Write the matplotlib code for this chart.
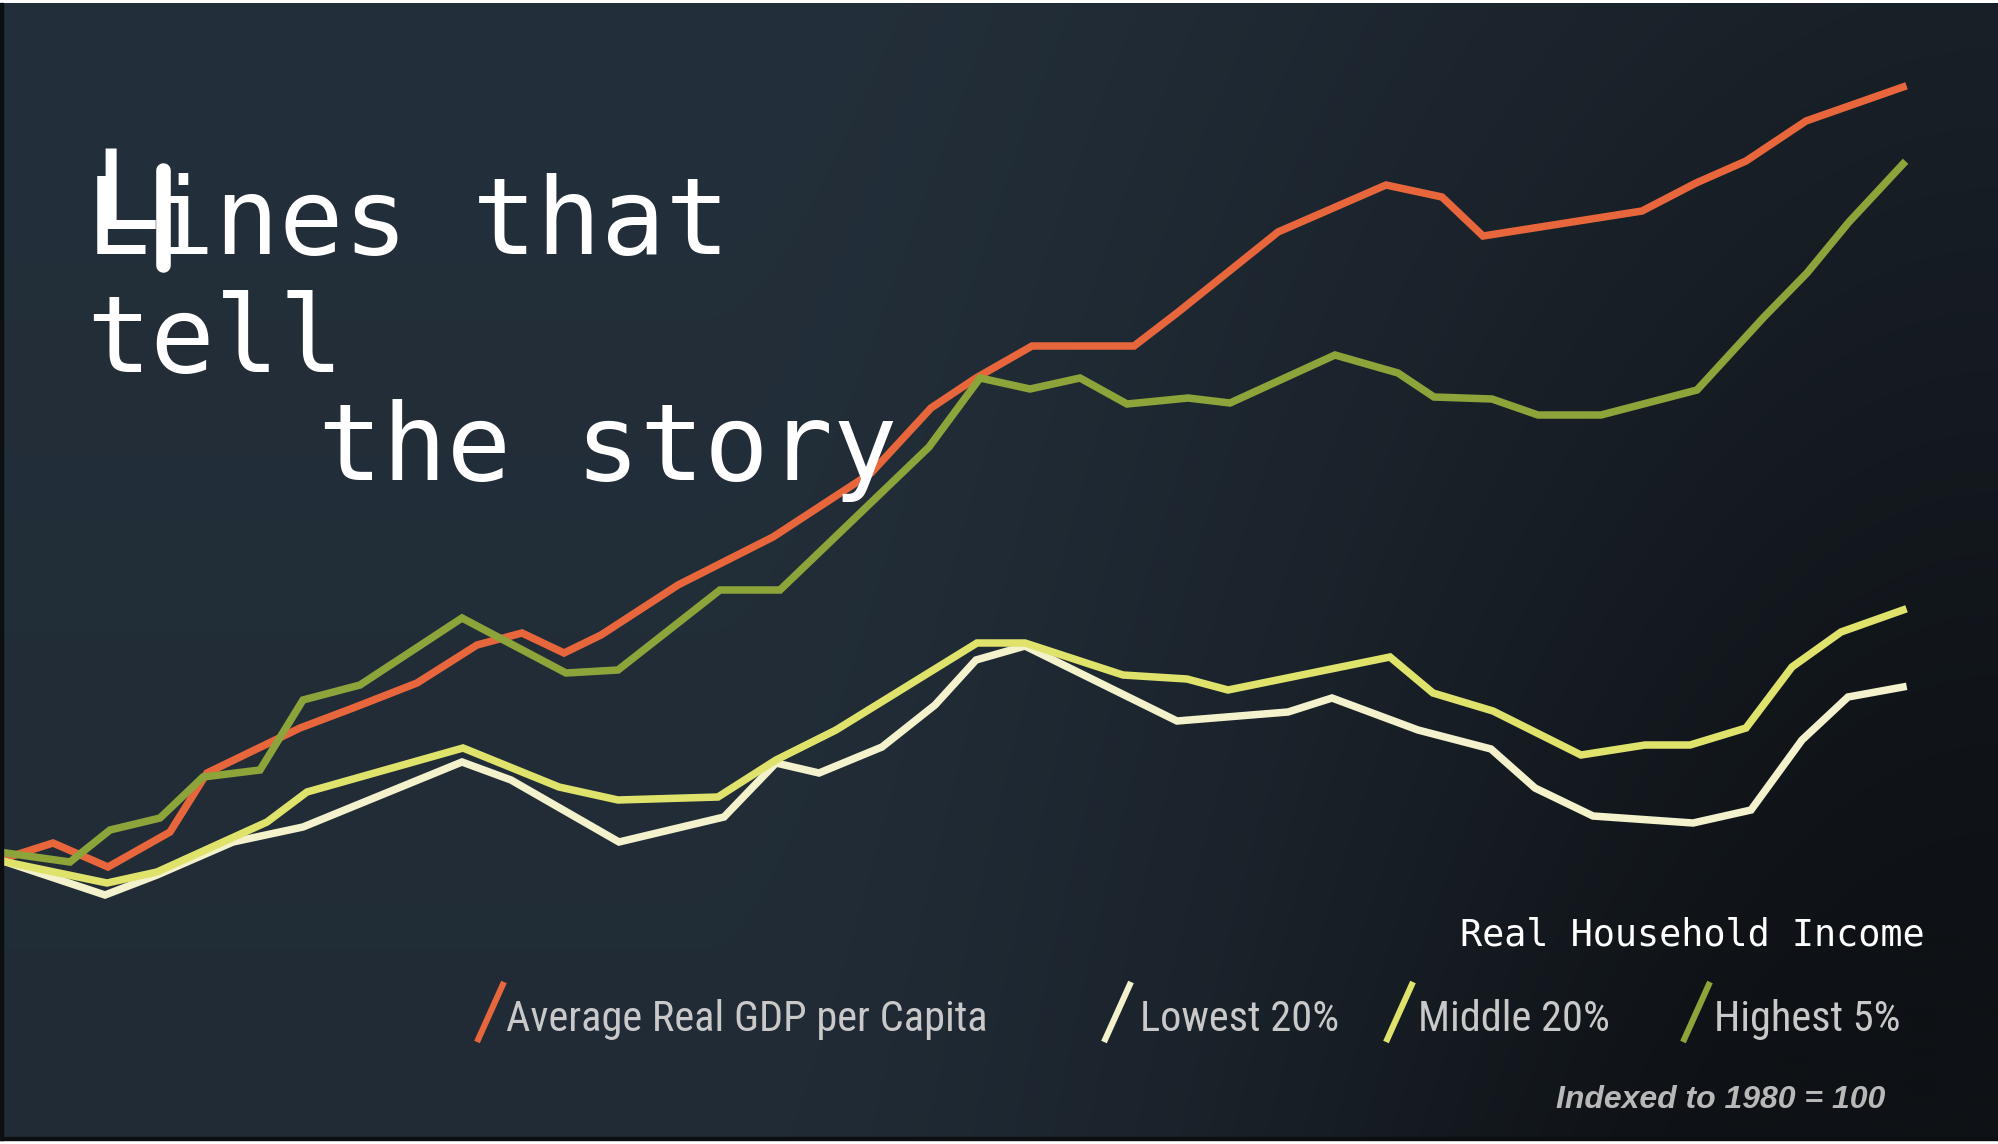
import numpy as np
import matplotlib
matplotlib.use("Agg")
import matplotlib.pyplot as plt
from matplotlib.lines import Line2D
from matplotlib import font_manager

# index values, 1980 = 100
gdp_years = [1980.00, 1980.94, 1982.04, 1983.28, 1984.02, 1985.88, 1986.94, 1988.22, 1989.42,
             1990.32, 1991.16, 1991.90, 1993.44, 1995.34, 1997.30, 1998.50, 1999.40, 2000.52,
             2002.56, 2003.42, 2005.44, 2007.60, 2008.72, 2009.54, 2012.72, 2013.80, 2014.80,
             2016.00, 2017.94]
gdp_index = [100.0, 103.0, 98.2, 105.2, 117.0, 126.0, 130.0, 135.0, 142.6,
             145.0, 141.0, 144.6, 154.6, 164.2, 177.0, 190.0, 196.0, 202.4,
             202.4, 209.0, 225.2, 234.6, 232.2, 224.4, 229.4, 235.0, 239.4,
             247.4, 254.2]

low_years = [1980.00, 1981.98, 1983.02, 1984.54, 1985.94, 1989.12, 1990.10, 1992.26, 1994.36,
             1995.40, 1996.26, 1997.52, 1998.58, 1999.40, 2000.38, 2003.42, 2005.64, 2006.52,
             2008.24, 2009.70, 2010.58, 2011.74, 2013.74, 2014.90, 2015.92, 2016.84, 2017.94]
low_index = [99.2, 92.6, 96.6, 103.2, 106.2, 119.2, 115.6, 103.2, 108.2,
             119.0, 117.0, 122.2, 130.6, 139.6, 142.4, 127.4, 129.2, 132.0,
             125.6, 121.8, 114.0, 108.4, 107.0, 109.6, 123.6, 132.2, 134.2]

mid_years = [1980.00, 1982.02, 1983.02, 1985.22, 1986.02, 1989.14, 1991.06, 1992.24, 1994.24,
             1995.40, 1996.60, 1999.42, 2000.38, 2002.34, 2003.62, 2004.44, 2007.68, 2008.54,
             2009.74, 2011.50, 2012.78, 2013.68, 2014.80, 2015.72, 2016.70, 2017.94]
mid_index = [99.2, 95.0, 97.2, 107.2, 113.2, 122.0, 114.2, 111.6, 112.2,
             119.6, 125.6, 143.0, 143.0, 136.6, 135.8, 133.6, 140.2, 133.0,
             129.4, 120.6, 122.6, 122.6, 126.0, 138.2, 145.2, 149.6]

top_years = [1980.00, 1981.28, 1982.08, 1983.08, 1983.94, 1985.08, 1985.94, 1987.08, 1989.12,
             1991.20, 1992.24, 1994.28, 1995.48, 1998.46, 1999.48, 2000.48, 2001.48, 2002.42,
             2003.64, 2004.48, 2006.58, 2007.84, 2008.56, 2009.72, 2010.64, 2011.90, 2013.82,
             2015.16, 2016.02, 2016.86, 2017.94]
top_index = [101.0, 99.2, 105.6, 108.0, 116.2, 117.6, 131.6, 134.6, 148.0,
             137.0, 137.6, 153.6, 153.6, 182.2, 196.0, 193.8, 196.0, 190.8,
             192.0, 191.0, 200.6, 197.0, 192.2, 191.8, 188.6, 188.6, 193.6,
             208.2, 217.0, 227.2, 238.8]

labels = ['Average Real GDP per Capita', 'Lowest 20%', 'Middle 20%', 'Highest 5%']
colors = ['#e8663b', '#f3f2cc', '#dfe36c', '#8ca43a']

W, H = 1999, 1144
def fx(px):
    return px / W
def fy(py):
    return 1 - py / H

# a narrow sans for the legend if one is around, otherwise plain Liberation Sans a bit smaller
narrow = [f for f in font_manager.fontManager.ttflist
          if ('Narrow' in f.name or 'Condensed' in f.name
              or f.stretch in ('condensed', 'semi-condensed', 'extra-condensed'))
          and f.style == 'normal' and f.weight in (400, 'normal', 'regular')]
prefer = ['Roboto Condensed', 'Liberation Sans Narrow', 'Open Sans Condensed']
narrow.sort(key=lambda f: prefer.index(f.name) if f.name in prefer else 99)
if narrow:
    leg_font = dict(family=narrow[0].name, stretch=narrow[0].stretch)
    leg_size = 30.5
else:
    leg_font = dict(family='Liberation Sans')
    leg_size = 27

fig = plt.figure(figsize=(W / 100, H / 100), dpi=100)
fig.patch.set_facecolor('white')
ax = fig.add_axes([0, 0, 1, 1])

# dark slate background, darker towards the right / bottom right
u = np.linspace(0, 1, 500)[None, :]
v = np.linspace(0, 1, 300)[:, None]
s = np.clip((u - 0.35) / 0.65, 0, 1)
s = s * s * (3 - 2 * s)
t = np.clip(0.5 * s + 0.5 * s * v + 0.12 * v, 0, 1)
c1 = np.array([0x23, 0x2f, 0x3a]) / 255
c2 = np.array([0x0e, 0x11, 0x15]) / 255
img = c1[None, None, :] * (1 - t[..., None]) + c2[None, None, :] * t[..., None]
ax.imshow(img, extent=(1979.88, 2019.86, 43.6, 271.0), aspect='auto',
          interpolation='bilinear', zorder=0)
ax.set_xlim(1979.88, 2019.86)
ax.set_ylim(42.8, 271.6)
ax.axis('off')

lw = 5.4
ax.plot(gdp_years, gdp_index, color=colors[0], lw=lw, solid_joinstyle='miter', zorder=3)
ax.plot(low_years, low_index, color=colors[1], lw=lw, solid_joinstyle='miter', zorder=3)
ax.plot(mid_years, mid_index, color=colors[2], lw=lw, solid_joinstyle='miter', zorder=4)
ax.plot(top_years, top_index, color=colors[3], lw=lw, solid_joinstyle='miter', zorder=4)

# frame edges
fig.add_artist(plt.Rectangle((0, fy(1140)), fx(3), fy(3) - fy(1140),
                             transform=fig.transFigure, color='#0b0f12', zorder=5))
fig.add_artist(plt.Rectangle((0, fy(1140)), 1, fy(1137) - fy(1140),
                             transform=fig.transFigure, color='#0b0f12', zorder=5))

# title
mono = 'DejaVu Sans Mono'
fig.text(fx(86), fy(254), 'Lines that', fontsize=77, family=mono, color='white', va='baseline', zorder=6)
fig.text(fx(86), fy(372), 'tell', fontsize=77, family=mono, color='white', va='baseline', zorder=6)
fig.text(fx(318), fy(480), 'the story', fontsize=77, family=mono, color='white', va='baseline', zorder=6)
# glitched drop cap
fig.text(fx(93), fy(229), 'L', fontsize=80, family=mono, color='white', va='baseline', zorder=6)
fig.add_artist(Line2D([fx(163), fx(163)], [fy(170), fy(265)], transform=fig.transFigure,
                      color='white', lw=10.5, solid_capstyle='round', zorder=6))

fig.text(fx(1925), fy(945), 'Real Household Income', fontsize=26.5, family=mono,
         color='white', ha='right', va='baseline', zorder=6)

# legend
stroke_x = [477, 1104, 1386, 1683]
text_x = [506, 1140, 1418, 1714]
for lab, col, sx, tx in zip(labels, colors, stroke_x, text_x):
    fig.add_artist(Line2D([fx(sx), fx(sx + 27)], [fy(1042), fy(982)], transform=fig.transFigure,
                          color=col, lw=4.4, solid_capstyle='butt', zorder=6))
    fig.text(fx(tx), fy(1031), lab, fontsize=leg_size, color='#c9c9c9',
             va='baseline', zorder=6, **leg_font)

fig.text(fx(1885), fy(1108), 'Indexed to 1980 = 100', fontsize=23, family='Liberation Sans',
         style='italic', weight='bold', color='#b8b8b8', ha='right', va='baseline', zorder=6)

fig.savefig('out.png', dpi=100, facecolor=fig.get_facecolor())
